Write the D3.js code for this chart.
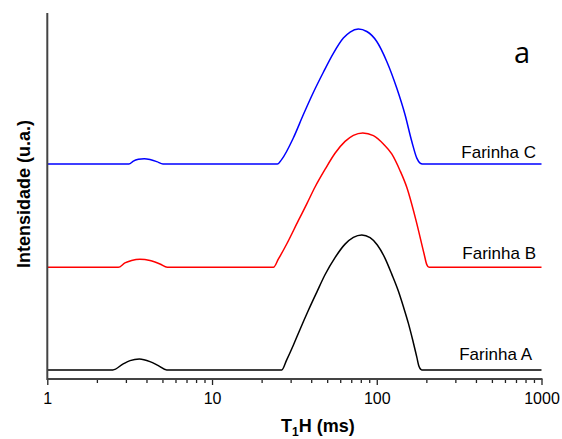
<!DOCTYPE html>
<html>
<head>
<meta charset="utf-8">
<script src="https://cdn.jsdelivr.net/npm/d3@7"></script>
<style>
  html, body { margin: 0; padding: 0; background: #fff; }
  svg { display: block; }
</style>
</head>
<body>
<svg id="chart" width="562" height="439"></svg>
<script>
// ---- data (T1H in ms, intensity in arbitrary units) ----
const seriesNames = ["Farinha A", "Farinha B", "Farinha C"];
const seriesColors = ["#000000", "#ff0000", "#0000ff"];
const seriesOffsets = [0, 76, 152.5];

const farinhaA = [
  [1, 0], [2.5, 0], [2.89, 4.5], [3.18, 6.9], [3.62, 8.1], [4.2, 6.2], [4.72, 3.2], [5.31, 0],
  [26.5, 0], [28.4, 7.5], [31.2, 18.5], [34.2, 30], [38.4, 44], [43.2, 57.5], [48.5, 70.5],
  [55.8, 83.2], [64.2, 93.2], [72.1, 98.2], [81.1, 100], [91.1, 98], [100.8, 92.6], [112.3, 82.7],
  [123.3, 71], [135.2, 58.5], [145, 47], [155.6, 34.5], [165.4, 22], [175, 9.5], [180.6, 2.5],
  [187.6, 0], [1000, 0]
];
const farinhaB = [
  [1, 0], [2.7, 0], [2.96, 3.3], [3.25, 5.1], [3.65, 6], [4.2, 5.1], [4.83, 2.5], [5.35, 0],
  [23.6, 0], [25.3, 6.2], [28.4, 17.3], [33.4, 34.6], [37.6, 47], [42.2, 59.5], [48.5, 72.5],
  [55.8, 84.5], [64.2, 93.3], [72.1, 97.8], [82.2, 99.6], [95.4, 97.6], [109.7, 91.4], [123.3, 84],
  [138.5, 71.6], [152.1, 59.3], [173.2, 34.6], [193.8, 9.9], [201.2, 2], [207.7, 0], [1000, 0]
];
const farinhaC = [
  [1, 0], [3.13, 0], [3.33, 2.2], [3.57, 3.5], [3.88, 4], [4.2, 3.4], [4.62, 1.8], [5.04, 0],
  [24.9, 0], [26.5, 3.5], [31.2, 19.5], [35.8, 36.5], [41.2, 53], [47.4, 68], [54.5, 82],
  [62.7, 93.3], [68.9, 97.8], [77.3, 100], [87, 98.2], [100, 90.8], [115, 76], [132.2, 56.3],
  [148.5, 36.5], [163.2, 16.7], [175, 4.4], [183.2, 0.7], [189.2, 0], [1000, 0]
];
const seriesData = [farinhaA, farinhaB, farinhaC];

const xMajorTicks = [1, 10, 100, 1000];
const xMinorTicks = [2,3,4,5,6,7,8,9,20,30,40,50,60,70,80,90,200,300,400,500,600,700,800,900];
const xTickLabels = ["1", "10", "100", "1000"];
const xTitleMain = "T";
const xTitleSub = "1";
const xTitleRest = "H (ms)";
const yTitle = "Intensidade (u.a.)";
const panelLabel = "a";

// ---- layout ----
const svg = d3.select("#chart");
const x = d3.scaleLog().domain([1, 1000]).range([47.3, 541.5]);
const y = d3.scaleLinear().domain([-6.7, 264.4]).range([379, 13]);

// curves
const line = (off) => d3.line()
  .x(d => x(d[0]))
  .y(d => y(d[1] + off))
  .curve(d3.curveMonotoneX);

seriesData.forEach((data, i) => {
  svg.append("path")
    .datum(data)
    .attr("fill", "none")
    .attr("stroke", seriesColors[i])
    .attr("stroke-width", 1.5)
    .attr("stroke-linejoin", "round")
    .attr("d", line(seriesOffsets[i]));
});

// x axis: minor ticks
const gMinor = svg.append("g")
  .attr("transform", `translate(0,${y.range()[0]})`)
  .call(d3.axisBottom(x).tickValues(xMinorTicks).tickSize(4).tickFormat(""));
gMinor.select(".domain").remove();
gMinor.selectAll("line").attr("stroke", "#222").attr("stroke-width", 1.3);

// x axis: major ticks with labels
const gMajor = svg.append("g")
  .attr("transform", `translate(0,${y.range()[0]})`)
  .call(d3.axisBottom(x).tickValues(xMajorTicks).tickSize(6).tickPadding(8)
    .tickFormat((d, i) => xTickLabels[i]));
gMajor.select(".domain").remove();
gMajor.selectAll("line").attr("stroke", "#222").attr("stroke-width", 1.3);
gMajor.selectAll("text")
  .attr("font-family", "'Liberation Sans', Arial, sans-serif")
  .attr("font-size", 16)
  .attr("fill", "#000");

// axis lines
svg.append("line")
  .attr("x1", x.range()[0]).attr("x2", x.range()[1] + 1)
  .attr("y1", y.range()[0]).attr("y2", y.range()[0])
  .attr("stroke", "#444").attr("stroke-width", 2);
svg.append("line")
  .attr("x1", x.range()[0]).attr("x2", x.range()[0])
  .attr("y1", y.range()[1]).attr("y2", y.range()[0] + 1)
  .attr("stroke", "#444").attr("stroke-width", 2);

// series labels
const labelPos = [[532, 360], [536, 259], [536, 158]];
seriesNames.forEach((name, i) => {
  svg.append("text")
    .attr("x", labelPos[i][0]).attr("y", labelPos[i][1])
    .attr("text-anchor", "end")
    .attr("font-family", "'Liberation Sans', Arial, sans-serif")
    .attr("font-size", 17)
    .attr("fill", "#000")
    .text(name);
});

// x title
const xt = svg.append("text")
  .attr("x", 281).attr("y", 432)
  .attr("font-family", "'Liberation Sans', Arial, sans-serif")
  .attr("font-size", 18)
  .attr("font-weight", "bold")
  .attr("fill", "#000");
xt.append("tspan").text(xTitleMain);
xt.append("tspan").attr("font-size", 12).attr("dy", 3.5).text(xTitleSub);
xt.append("tspan").attr("dy", -3.5).text(xTitleRest);

// y title
svg.append("text")
  .attr("transform", "translate(30,194) rotate(-90)")
  .attr("text-anchor", "middle")
  .attr("font-family", "'Liberation Sans', Arial, sans-serif")
  .attr("font-size", 18)
  .attr("font-weight", "bold")
  .attr("fill", "#000")
  .text(yTitle);

// panel label
svg.append("text")
  .attr("x", 522).attr("y", 63)
  .attr("text-anchor", "middle")
  .attr("font-family", "'Open Sans', sans-serif")
  .attr("font-size", 29)
  .attr("fill", "#000")
  .text(panelLabel);
</script>
</body>
</html>
